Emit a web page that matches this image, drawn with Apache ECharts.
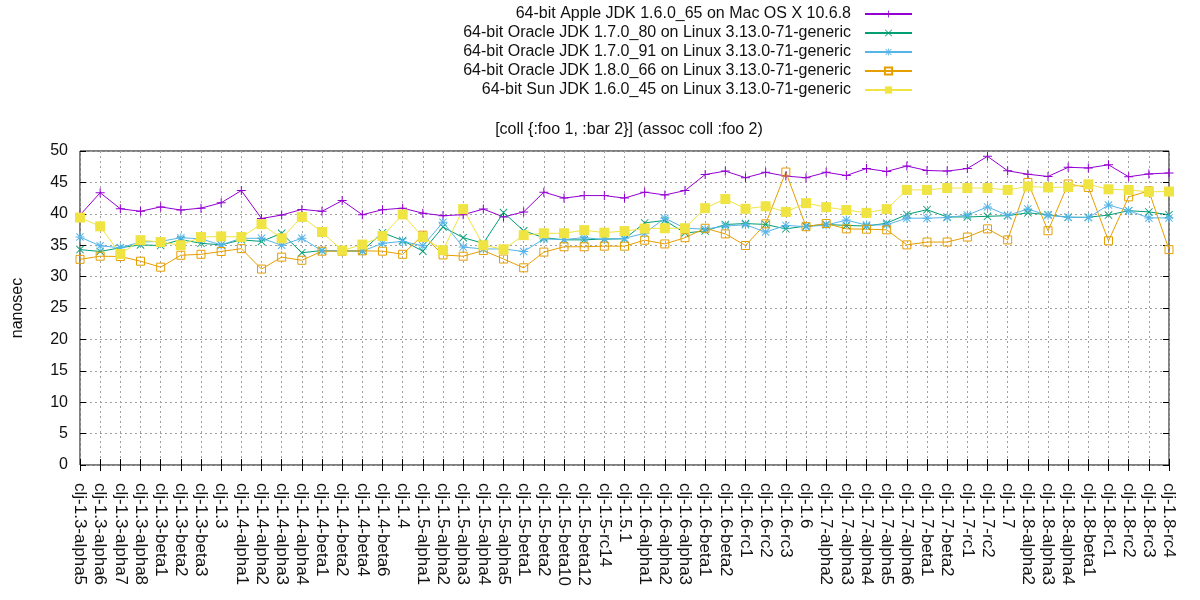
<!DOCTYPE html>
<html>
<head>
<meta charset="utf-8">
<script src="https://cdn.jsdelivr.net/npm/echarts@6/dist/echarts.min.js"></script>
<style>
  html, body { margin: 0; padding: 0; background: #fff; }
  #chart { width: 1200px; height: 600px; }
</style>
</head>
<body>
<div id="chart"></div>
<script>
var versions = [
  'clj-1.3-alpha5', 'clj-1.3-alpha6', 'clj-1.3-alpha7', 'clj-1.3-alpha8', 'clj-1.3-beta1',
  'clj-1.3-beta2', 'clj-1.3-beta3', 'clj-1.3', 'clj-1.4-alpha1', 'clj-1.4-alpha2',
  'clj-1.4-alpha3', 'clj-1.4-alpha4', 'clj-1.4-beta1', 'clj-1.4-beta2', 'clj-1.4-beta4',
  'clj-1.4-beta6', 'clj-1.4', 'clj-1.5-alpha1', 'clj-1.5-alpha2', 'clj-1.5-alpha3',
  'clj-1.5-alpha4', 'clj-1.5-alpha5', 'clj-1.5-beta1', 'clj-1.5-beta2', 'clj-1.5-beta10',
  'clj-1.5-beta12', 'clj-1.5-rc14', 'clj-1.5.1', 'clj-1.6-alpha1', 'clj-1.6-alpha2',
  'clj-1.6-alpha3', 'clj-1.6-beta1', 'clj-1.6-beta2', 'clj-1.6-rc1', 'clj-1.6-rc2',
  'clj-1.6-rc3', 'clj-1.6', 'clj-1.7-alpha2', 'clj-1.7-alpha3', 'clj-1.7-alpha4',
  'clj-1.7-alpha5', 'clj-1.7-alpha6', 'clj-1.7-beta1', 'clj-1.7-beta2', 'clj-1.7-rc1',
  'clj-1.7-rc2', 'clj-1.7', 'clj-1.8-alpha2', 'clj-1.8-alpha3', 'clj-1.8-alpha4',
  'clj-1.8-beta1', 'clj-1.8-rc1', 'clj-1.8-rc2', 'clj-1.8-rc3', 'clj-1.8-rc4'
];

var seriesNames = [
  '64-bit Apple JDK 1.6.0_65 on Mac OS X 10.6.8',
  '64-bit Oracle JDK 1.7.0_80 on Linux 3.13.0-71-generic',
  '64-bit Oracle JDK 1.7.0_91 on Linux 3.13.0-71-generic',
  '64-bit Oracle JDK 1.8.0_66 on Linux 3.13.0-71-generic',
  '64-bit Sun JDK 1.6.0_45 on Linux 3.13.0-71-generic'
];

// nanosec per run, one value per clojure version
var apple16 = [
  39.8, 43.35, 40.8, 40.4, 41.1, 40.6, 40.9, 41.75, 43.7, 39.25,
  39.8, 40.7, 40.4, 42.1, 39.85, 40.65, 40.9, 40.1, 39.7, 39.85,
  40.75, 39.5, 40.3, 43.45, 42.5, 42.9, 42.9, 42.5, 43.45, 43.0,
  43.7, 46.25, 46.8, 45.75, 46.6, 46.0, 45.75, 46.6, 46.1, 47.2,
  46.75, 47.6, 46.9, 46.8, 47.2, 49.15, 46.85, 46.3, 45.95, 47.4,
  47.3, 47.8, 45.9, 46.35, 46.5
];
var oracle17_80 = [
  34.3, 34.0, 34.6, 35.05, 34.95, 35.9, 35.3, 35.05, 35.85, 35.6,
  36.9, 33.8, 34.15, 34.05, 34.1, 37.0, 35.75, 34.05, 37.9, 36.2,
  35.3, 40.2, 37.3, 36.2, 35.85, 35.85, 36.0, 36.0, 38.55, 38.95,
  36.95, 37.25, 38.3, 38.45, 38.3, 37.6, 38.05, 38.3, 38.15, 38.05,
  38.5, 39.9, 40.65, 39.5, 39.5, 39.6, 39.7, 40.15, 39.85, 39.45,
  39.45, 39.8, 40.5, 40.3, 39.85
];
var oracle17_91 = [
  36.3, 34.9, 34.6, 35.5, 35.6, 36.2, 36.0, 35.05, 36.1, 36.1,
  35.0, 36.1, 34.1, 34.15, 34.05, 35.3, 35.6, 34.9, 38.65, 34.7,
  34.4, 34.4, 34.0, 36.0, 35.9, 36.2, 35.9, 36.1, 36.9, 39.3,
  37.7, 37.55, 38.05, 38.25, 37.1, 38.15, 37.95, 38.2, 39.0, 38.2,
  38.25, 39.3, 39.3, 39.4, 39.8, 41.1, 39.75, 40.75, 39.75, 39.45,
  39.4, 41.4, 40.5, 39.35, 39.35
];
var oracle18_66 = [
  32.75, 33.25, 33.2, 32.45, 31.5, 33.4, 33.55, 34.0, 34.45, 31.2,
  33.1, 32.6, 34.05, 34.05, 34.1, 34.05, 33.55, 36.6, 33.45, 33.25,
  34.15, 32.8, 31.4, 33.9, 34.75, 34.75, 34.85, 34.85, 35.8, 35.2,
  36.2, 37.7, 36.8, 34.95, 38.4, 46.65, 37.95, 38.45, 37.6, 37.55,
  37.45, 35.05, 35.5, 35.5, 36.3, 37.6, 35.85, 45.0, 37.3, 44.75,
  44.2, 35.7, 42.7, 43.65, 34.3
];
var sun16 = [
  39.4, 38.0, 33.6, 35.8, 35.5, 35.0, 36.3, 36.4, 36.3, 38.35,
  36.1, 39.5, 37.1, 34.15, 35.1, 36.45, 39.9, 36.3, 34.2, 40.75,
  35.0, 34.35, 36.6, 36.9, 36.9, 37.4, 37.0, 37.25, 37.65, 37.7,
  37.7, 40.9, 42.35, 40.8, 41.2, 40.3, 41.7, 41.05, 40.6, 40.15,
  40.75, 43.8, 43.8, 44.1, 44.1, 44.1, 43.8, 44.35, 44.2, 44.25,
  44.7, 43.9, 43.8, 43.5, 43.55
];

var yTicks = { min: 0, max: 50, interval: 5 };

// gnuplot-ish point glyphs
var plusPath = 'path://M4,0h1v9h-1zM0,4h9v1h-9z';
var crossPath = 'path://M0,0.7L0.7,0L9,8.3L8.3,9ZM8.3,0L9,0.7L0.7,9L0,8.3Z';
var starPath = 'path://M4,0h1v9h-1zM0,4h9v1h-9zM0.5,1.2L1.2,0.5L8.5,7.8L7.8,8.5ZM7.8,0.5L8.5,1.2L1.2,8.5L0.5,7.8Z';

var font = 'Liberation Sans, Arial, sans-serif';
var fs = 16;

function lineSeries(name, data, color, symbol, size, hollow) {
  return {
    name: name,
    type: 'line',
    data: data,
    symbol: symbol,
    symbolSize: size,
    showAllSymbol: true,
    lineStyle: { color: color, width: 1 },
    itemStyle: hollow
      ? { color: 'rgba(0,0,0,0)', borderColor: color, borderWidth: 1 }
      : { color: color },
    emphasis: { disabled: true },
    animation: false
  };
}

var legendCenters = [15, 34, 53, 72, 91];
var legends = seriesNames.map(function (n, i) {
  return {
    data: [n],
    right: 287,
    top: legendCenters[i] - 9,
    orient: 'vertical',
    align: 'right',
    padding: 0,
    itemWidth: 47,
    itemHeight: 9,
    selectedMode: false,
    textStyle: { fontSize: fs, fontFamily: font, color: '#111', padding: [0, 9, 0, 0] }
  };
});

var chart = echarts.init(document.getElementById('chart'));
chart.setOption({
  backgroundColor: '#fff',
  animation: false,
  title: {
    text: '[coll {:foo 1, :bar 2}] (assoc coll :foo 2)',
    left: 624,
    textAlign: 'center',
    top: 117,
    textStyle: { fontSize: fs, fontWeight: 'normal', fontFamily: font, color: '#111' }
  },
  legend: legends,
  grid: {
    left: 80, right: 31, top: 151, bottom: 135,
    show: true, borderColor: '#000', borderWidth: 1
  },
  xAxis: [{
    type: 'category',
    data: versions,
    boundaryGap: false,
    axisLine: { show: false },
    axisTick: { inside: true, length: 6, lineStyle: { color: '#000' }, interval: 0 },
    axisLabel: {
      interval: 0, rotate: -90, margin: 18,
      fontSize: 17, fontFamily: font, color: '#111'
    },
    splitLine: { show: true, interval: 0, lineStyle: { color: '#a0a0a0', type: [2, 3] } }
  }, {
    type: 'category',
    data: versions,
    boundaryGap: false,
    position: 'top',
    axisLine: { show: false },
    axisTick: { inside: true, length: 6, lineStyle: { color: '#000' }, interval: 0 },
    axisLabel: { show: false },
    splitLine: { show: false }
  }],
  yAxis: [{
    type: 'value',
    min: yTicks.min, max: yTicks.max, interval: yTicks.interval,
    name: 'nanosec',
    nameLocation: 'middle',
    nameGap: 54,
    nameRotate: 90,
    nameTextStyle: { fontSize: fs, fontFamily: font, color: '#111' },
    axisLine: { show: false },
    axisTick: { show: true, inside: true, length: 6, lineStyle: { color: '#000' } },
    axisLabel: { fontSize: fs, fontFamily: font, color: '#111', margin: 12 },
    splitLine: { show: true, lineStyle: { color: '#a0a0a0', type: [2, 3] } }
  }, {
    type: 'value',
    position: 'right',
    min: yTicks.min, max: yTicks.max, interval: yTicks.interval,
    axisLine: { show: false },
    axisTick: { show: true, inside: true, length: 6, lineStyle: { color: '#000' } },
    axisLabel: { show: false },
    splitLine: { show: false }
  }],
  series: [
    lineSeries(seriesNames[0], apple16, '#9400d3', plusPath, 9, false),
    lineSeries(seriesNames[1], oracle17_80, '#009e73', crossPath, 8, false),
    lineSeries(seriesNames[2], oracle17_91, '#56b4e9', starPath, 9, false),
    lineSeries(seriesNames[3], oracle18_66, '#e69f00', 'rect', 8, true),
    lineSeries(seriesNames[4], sun16, '#f0e442', 'rect', 10, false)
  ]
});
</script>
</body>
</html>
